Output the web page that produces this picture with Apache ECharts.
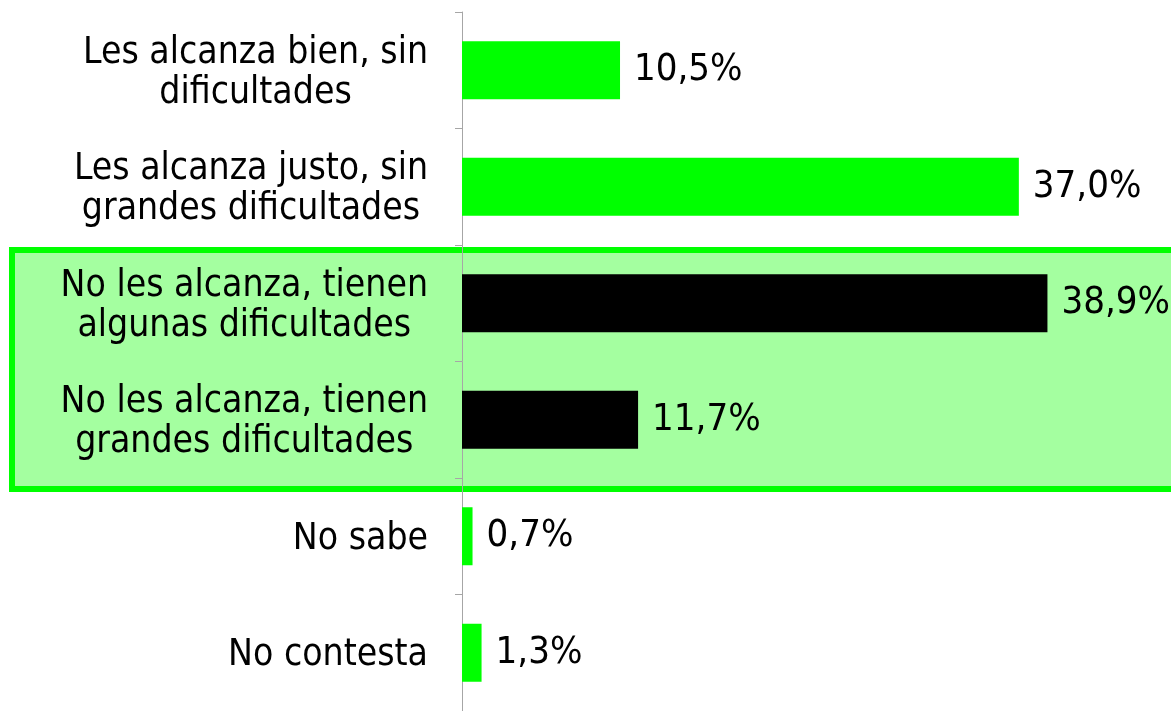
<!DOCTYPE html>
<html>
	<head>
		<meta charset="utf-8">
		<title>chart</title>
		<script src="https://cdn.jsdelivr.net/npm/echarts@6/dist/echarts.min.js"></script>
		<style>
			html,body{margin:0;padding:0;background:#fff;}
		</style>
	</head>
	<body>
		<div id="x" style="width: 1171px; height: 711px;"></div>
	</body>

	<script type="text/javascript">
		// categorias y valores (%)
		var cats=[
			'Les alcanza bien, sin\ndificultades',
			'Les alcanza justo, sin\ngrandes dificultades',
			'No les alcanza, tienen\nalgunas dificultades',
			'No les alcanza, tienen\ngrandes dificultades',
			'No sabe',
			'No contesta'
		];
		var vals=[10.5,37.0,38.9,11.7,0.7,1.3];
		var colors=['#00ff00','#00ff00','#000000','#000000','#00ff00','#00ff00'];

		var data=[];
		for (var i = 0; i < vals.length; i++) {
			data.push({value:vals[i],itemStyle:{color:colors[i]}});
		}

		option = {
			backgroundColor: '#fff',
			animation:false,
			grid:{left:462,right:107,top:12,bottom:0},
			graphic:[{
				type:'rect',
				z:-10,
				shape:{x:12,y:250,width:1200,height:239},
				style:{fill:'#a4ffa0',stroke:'#00ff00',lineWidth:6}
			}],
			xAxis: {
				type: 'value',
				min:0,
				max:40,
				show:false
			},
			yAxis: {
				type: 'category',
				inverse:true,
				data: cats,
				axisLine:{show:true,lineStyle:{color:'#a6a6a6',width:1}},
				axisTick:{show:true,length:7,alignWithLabel:false,lineStyle:{color:'#a6a6a6'}},
				axisLabel:{
					margin:34,
					align:'right',
					color:'#000',
					fontFamily:'DejaVu Sans Condensed',
					fontSize:37,
					lineHeight:40,
					formatter:function(v){
						return v.split('\n').map(function(s){return '{c|'+s+'}'}).join('\n');
					},
					rich:{
						c:{align:'center',fontFamily:'DejaVu Sans Condensed',fontSize:37,lineHeight:40,color:'#000',padding:[6,0,0,0]}
					}
				}
			},
			series: [{
				type: 'bar',
				barWidth:58,
				data: data,
				label:{
					show:true,
					position:'right',
					distance:14,
					color:'#000',
					fontFamily:'DejaVu Sans Condensed',
					fontSize:38,
					padding:[6,0,0,0],
					formatter:function(p){
						return p.value.toFixed(1).replace('.',',')+'%';
					}
				}
			}]
		};
		var mychart = echarts.init(document.getElementById("x"));
		mychart.setOption(option);
	</script>
</html>
